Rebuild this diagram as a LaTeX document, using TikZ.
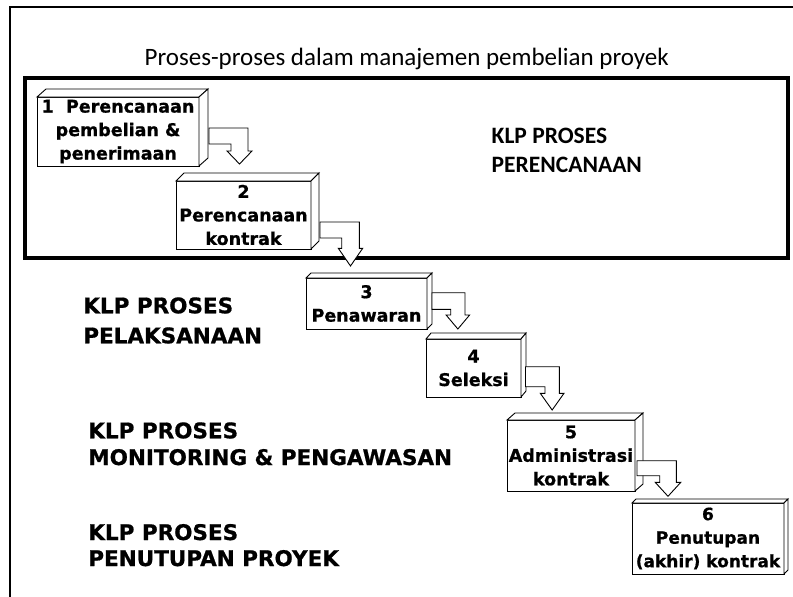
\documentclass[tikz,border=0pt]{standalone}
\usepackage{fontspec}
\newfontfamily\vfont{DejaVu Sans}[BoldFeatures={FakeBold=0.8}]
\newfontfamily\cfont{Carlito}
\usetikzlibrary{calc}
\newcommand\twolines[3]{\vtop{\baselineskip=#1\hbox{#2}\hbox{#3}}}
\newcommand\cubefaces[3]{%
  \draw[cubeline] (#1.north west) -- ++(#2,-#3) -- ($(#1.north east)+(#2,-#3)$) -- (#1.north east) -- cycle;
  \draw[cubeline] (#1.north east) -- ++(#2,-#3) -- ($(#1.south east)+(#2,-#3)$) -- (#1.south east) -- cycle;}
% from, sx, sy, L, wx, wy, V, e, H
\newcommand\bentarrow[9]{%
  \draw[blockarrow] ($(#1.north east)+(#2,#3)$) -- ++(#4,0) -- ++(0,#7) -- ++(#8,0)
    -- ++({-(#5/2+#8)},#9) -- ++({-(#5/2+#8)},{-#9}) -- ++(#8,0)
    -- ++(0,{-(#7-#6)}) -- ++({-(#4-#5)},0) -- cycle;}
\tikzset{
  cubebox/.style={draw, fill=white, line width=0.9pt, inner sep=0pt, outer sep=0pt,
    align=center, font=\vfont\bfseries\fontsize{17.5}{23.5}\selectfont},
  cubeline/.style={draw, fill=white, line width=0.9pt, line join=miter},
  blockarrow/.style={draw, fill=white, line width=0.9pt, line join=miter},
  grouplabel/.style={anchor=base west, inner sep=0pt, outer sep=0pt,
    font=\vfont\bfseries\fontsize{21.5}{26}\selectfont},
  planlabel/.style={anchor=base west, inner sep=0pt, outer sep=0pt,
    font=\cfont\bfseries\fontsize{23.5}{28}\selectfont},
  titletext/.style={anchor=base, inner sep=0pt, outer sep=0pt,
    font=\cfont\fontsize{25}{30}\selectfont},
}
\begin{document}
\begin{tikzpicture}[x=1pt, y=-1pt]
\useasboundingbox (0,0) rectangle (793,597);
% outer frame
\draw[line width=2pt] (10,597) -- (10,7) -- (793,7);
\node[titletext] (title) at (406.7,65) {Proses-proses dalam manajemen pembelian proyek};
% planning group frame
\draw[line width=3.2pt] (25,78) rectangle (788,258);
\node[planlabel] (g0) at (491.7,143.3) {\twolines{29.4pt}{KLP PROSES}{PERENCANAAN}};
% group labels
\node[grouplabel] (g1) at (83.3,313.3) {\twolines{30pt}{KLP PROSES}{PELAKSANAAN}};
\node[grouplabel] (g2) at (88.3,438.3) {\twolines{26.7pt}{KLP PROSES}{MONITORING \& PENGAWASAN}};
\node[grouplabel] (g3) at (88.3,540) {\twolines{26pt}{KLP PROSES}{PENUTUPAN PROYEK}};
% boxes and arrows
\node[cubebox, minimum width=162, minimum height=69] (b1) at (118,131.5) {1~~Perencanaan\\pembelian \&\\penerimaan};
\cubefaces{b1}{9}{8}
\bentarrow{b1}{10}{31}{39}{17}{16}{23}{4}{13}
\node[cubebox, minimum width=135, minimum height=68] (b2) at (243.5,215) {2\\Perencanaan\\kontrak};
\cubefaces{b2}{8}{8}
\bentarrow{b2}{9}{41}{39.3}{17.6}{16}{26.3}{3.4}{17.7}
\node[cubebox, minimum width=121, minimum height=51] (b3) at (366.5,303.5) {3\\Penawaran};
\cubefaces{b3}{5}{5}
\bentarrow{b3}{5}{14.7}{33}{14.3}{16.6}{22.3}{4.6}{14}
\node[cubebox, minimum width=95, minimum height=58] (b4) at (473.5,368) {4\\Seleksi};
\cubefaces{b4}{5}{6}
\bentarrow{b4}{4.5}{27.7}{33.8}{14.3}{20}{26.6}{4.7}{16.7}
\node[cubebox, minimum width=128, minimum height=71] (b5) at (571,455.5) {5\\Administrasi\\kontrak};
\cubefaces{b5}{8}{7}
\bentarrow{b5}{2}{40.7}{39.3}{16.6}{15}{21.6}{4.5}{14}
\node[cubebox, minimum width=152, minimum height=71, font=\vfont\bfseries\fontsize{17}{23.5}\selectfont] (b6) at (708,538.5) {6\\Penutupan\\(akhir) kontrak};
\cubefaces{b6}{4}{4}
\end{tikzpicture}
\end{document}
